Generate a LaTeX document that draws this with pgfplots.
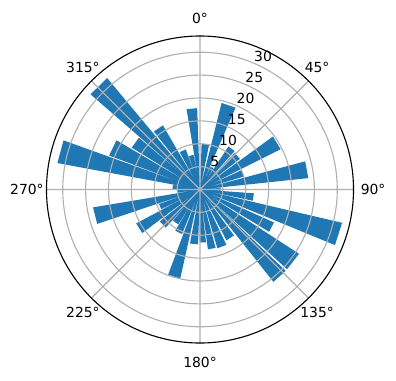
\documentclass[border=0pt]{standalone}
\usepackage{fontspec}
\setmainfont{DejaVu Sans}
\usepackage{pgfplots}
\pgfplotsset{compat=1.18}
\usepgfplotslibrary{polar}
\definecolor{mplblue}{HTML}{1F77B4}
\definecolor{gridgray}{HTML}{B0B0B0}
\begin{document}
\begin{tikzpicture}[font=\fontsize{10}{12}\selectfont]
\begin{polaraxis}[
  name=P,
  scale only axis, width=221.04pt, height=221.04pt,
  ymin=0, ymax=33.55,
  xtick={0,45,...,315},
  xticklabels={},
  ytick={5,10,...,30},
  yticklabels={},
  grid=major,
  major grid style={color=gridgray, line width=0.8pt},
  separate axis lines,
  x axis line style={black, line width=0.8pt},
  y axis line style={draw=none},
  major tick length=0pt,
  axis on top,
  x filter/.expression={90-x},
]
% wedges: (0,0) (start angle, r) (end angle, r), angles clockwise from north
\addplot[fill=mplblue, draw=none] coordinates {
(0,0) (2,10.0) (11.5,10.0)
(0,0) (14,19.5) (23.5,19.5)
(0,0) (25,5.5) (32,5.5)
(0,0) (33.5,11.3) (42,11.3)
(0,0) (43.5,11.0) (52.5,11.0)
(0,0) (54,19.7) (63.5,19.7)
(0,0) (65,10.0) (73.5,10.0)
(0,0) (75,23.8) (84,23.8)
(0,0) (85.5,4.5) (93,4.5)
(0,0) (94,11.8) (102,11.8)
(0,0) (103.2,31.9) (112.4,31.9)
(0,0) (114,17.7) (121.5,17.7)
(0,0) (123,25.8) (132.5,25.8)
(0,0) (133.5,25.8) (141.5,25.8)
(0,0) (143.5,12.5) (152.5,12.5)
(0,0) (154.5,13.4) (163.5,13.4)
(0,0) (165,13.2) (172.5,13.2)
(0,0) (173.5,11.6) (180.5,11.6)
(0,0) (182,12.0) (190.5,12.0)
(0,0) (192.5,19.9) (200.5,19.9)
(0,0) (202,10.5) (211,10.5)
(0,0) (212,9.0) (221,9.0)
(0,0) (222,11.2) (231.5,11.2)
(0,0) (233,15.8) (242,15.8)
(0,0) (243,9.5) (250.5,9.5)
(0,0) (251.5,23.7) (260.5,23.7)
(0,0) (262,5.0) (269.5,5.0)
(0,0) (271,6.0) (279.5,6.0)
(0,0) (280.5,31.7) (289.8,31.7)
(0,0) (290.5,21.2) (300.5,21.2)
(0,0) (301.5,17.5) (310.3,17.5)
(0,0) (311,31.7) (320.2,31.7)
(0,0) (321.5,16.2) (330,16.2)
(0,0) (331.5,9.3) (340.5,9.3)
(0,0) (341.5,7.7) (349.5,7.7)
(0,0) (350.5,17.8) (358,17.8)
(0,0)
};
\end{polaraxis}
% radial tick labels
\node[anchor=base west, inner sep=0pt] at ([shift={(67.5:16.47pt)},xshift=1pt,yshift=1pt]P.center) {5};
\node[anchor=base west, inner sep=0pt] at ([shift={(67.5:32.94pt)},xshift=1pt,yshift=1pt]P.center) {10};
\node[anchor=base west, inner sep=0pt] at ([shift={(67.5:49.41pt)},xshift=1pt,yshift=1pt]P.center) {15};
\node[anchor=base west, inner sep=0pt] at ([shift={(67.5:65.88pt)},xshift=1pt,yshift=1pt]P.center) {20};
\node[anchor=base west, inner sep=0pt] at ([shift={(67.5:82.35pt)},xshift=1pt,yshift=1pt]P.center) {25};
\node[anchor=base west, inner sep=0pt] at ([shift={(67.5:98.82pt)},xshift=1pt,yshift=1pt]P.center) {30};
% angular tick labels
\node[inner sep=0pt] at ([shift={(0pt,123.5pt)}]P.center) {0°};
\node[inner sep=0pt] at ([shift={(84.3pt,88.2pt)}]P.center) {45°};
\node[inner sep=0pt] at ([shift={(124.6pt,0pt)}]P.center) {90°};
\node[inner sep=0pt] at ([shift={(84.3pt,-88.2pt)}]P.center) {135°};
\node[inner sep=0pt] at ([shift={(0pt,-124.2pt)}]P.center) {180°};
\node[inner sep=0pt] at ([shift={(-84.3pt,-88.2pt)}]P.center) {225°};
\node[inner sep=0pt] at ([shift={(-124.6pt,0pt)}]P.center) {270°};
\node[inner sep=0pt] at ([shift={(-84.3pt,88.2pt)}]P.center) {315°};
\pgfresetboundingbox
\path ([shift={(-144pt,-137.16pt)}]P.center) rectangle ([shift={(141.12pt,136.44pt)}]P.center);
\end{tikzpicture}
\end{document}
